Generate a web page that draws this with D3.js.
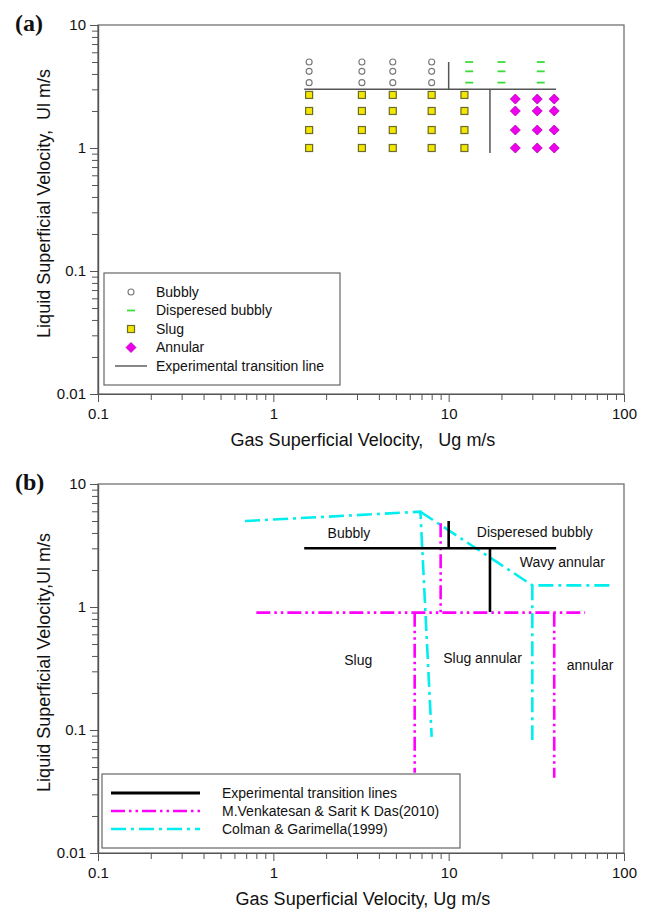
<!DOCTYPE html>
<html>
<head>
<meta charset="utf-8">
<script src="https://cdn.jsdelivr.net/npm/d3@7"></script>
<style>
  body { margin: 0; background: #fff; }
  svg { display: block; font-family: "Liberation Sans", Arial, sans-serif; }
</style>
</head>
<body>
<div id="chart"></div>
<script>
// axis tick labels
const xTickLabels = [0.1, 1, 10, 100];
const yTickLabels = [0.01, 0.1, 1, 10];

// (a) observed flow patterns, Ug columns x Ul rows (m/s)
const bubblyUg = [1.6, 3.2, 4.8, 8.0];
const bubblyUl = [5.0, 4.2, 3.4];
const dispersedUg = [13.1, 20, 33.5];
const dispersedUl = [5.0, 4.2, 3.4];
const slugUg = [1.6, 3.2, 4.8, 8.0, 12.3];
const slugUl = [2.7, 2.0, 1.4, 1.0];
const annularUg = [24, 32, 40];
const annularUl = [2.5, 2.0, 1.4, 1.0];

// transition lines, [Ug, Ul] vertices
const expLines = [
  [[1.5, 3], [41, 3]],
  [[10, 5], [10, 3]],
  [[17.2, 3], [17.2, 0.91]]
];
const venkatesanLines = [
  [[0.8, 0.9], [60, 0.9]],
  [[6.4, 0.9], [6.4, 0.045]],
  [[9.0, 4.8], [9.0, 0.9]],
  [[40, 0.9], [40, 0.041]]
];
const colmanLines = [
  [[0.69, 5.0], [6.9, 5.95], [8.0, 0.088]],
  [[6.9, 5.95], [30, 1.5], [87, 1.5]],
  [[30, 1.5], [30, 0.083]]
];

// (b) region names
const regionNames = ["Bubbly", "Disperesed bubbly", "Wavy annular", "Slug", "Slug annular", "annular"];
const regionUg = [2.7, 31, 44.5, 3.05, 15.6, 64];
const regionUl = [4.0, 4.05, 2.3, 0.37, 0.385, 0.34];

const W = 646, H = 913;
const left = 98, right = 624;
const font = '"Liberation Sans", Arial, sans-serif';

const svg = d3.select("#chart").append("svg")
    .attr("width", W)
    .attr("height", H);

function isMajor(v) {
  const l = Math.log10(v);
  return Math.abs(l - Math.round(l)) < 1e-9;
}

function panel(top, bottom, tag, xTitle, yTitle) {
  const x = d3.scaleLog().domain([0.1, 100]).range([left, right]);
  const y = d3.scaleLog().domain([0.01, 10]).range([bottom, top]);
  const g = svg.append("g");

  g.append("rect")
      .attr("x", left).attr("y", top)
      .attr("width", right - left).attr("height", bottom - top)
      .attr("fill", "none")
      .attr("stroke", "#666")
      .attr("stroke-width", 1.2);

  const xMinor = x.ticks().filter(v => !isMajor(v));
  const yMinor = y.ticks().filter(v => !isMajor(v));

  const axisStyle = sel => {
    sel.attr("color", "#555")
       .attr("font-size", 15)
       .attr("font-family", font);
    sel.selectAll("path.domain").attr("stroke-width", 1.2);
    sel.selectAll("text").attr("fill", "#111");
  };

  g.append("g")
      .attr("transform", `translate(0,${bottom})`)
      .call(d3.axisBottom(x).tickValues(xMinor).tickSize(6).tickSizeOuter(0).tickFormat(""))
      .call(axisStyle);
  g.append("g")
      .attr("transform", `translate(0,${bottom})`)
      .call(d3.axisBottom(x).tickValues(xTickLabels).tickSize(8).tickSizeOuter(0).tickPadding(6)
        .tickFormat(d3.format("~g")))
      .call(axisStyle);
  g.append("g")
      .attr("transform", `translate(${left},0)`)
      .call(d3.axisLeft(y).tickValues(yMinor).tickSize(6).tickSizeOuter(0).tickFormat(""))
      .call(axisStyle);
  g.append("g")
      .attr("transform", `translate(${left},0)`)
      .call(d3.axisLeft(y).tickValues(yTickLabels).tickSize(8).tickSizeOuter(0).tickPadding(4)
        .tickFormat(d3.format("~g")))
      .call(axisStyle);

  g.append("text")
      .attr("x", (left + right) / 2 + 2)
      .attr("y", bottom + 52)
      .attr("text-anchor", "middle")
      .attr("font-size", 18)
      .attr("fill", "#111")
      .style("white-space", "pre")
      .text(xTitle);

  g.append("text")
      .attr("transform", `translate(50,${(top + bottom) / 2 - 6}) rotate(-90)`)
      .attr("text-anchor", "middle")
      .attr("font-size", 18)
      .attr("fill", "#111")
      .style("white-space", "pre")
      .text(yTitle);

  g.append("text")
      .attr("x", 15)
      .attr("y", top + 6)
      .attr("font-family", '"Liberation Serif", "Times New Roman", serif')
      .attr("font-weight", "bold")
      .attr("font-size", 24)
      .attr("fill", "#111")
      .text(tag);

  return { g, x, y };
}

// ---------- panel (a) ----------
const pa = panel(25, 394, "(a)", "Gas Superficial Velocity,   Ug m/s", "Liquid Superficial Velocity,  Ul m/s");

const grid = (us, ls) => us.flatMap(u => ls.map(l => [u, l]));

const symbols = {
  bubbly: g => g.append("circle").attr("r", 3).attr("fill", "#fff").attr("stroke", "#777").attr("stroke-width", 1.1),
  dispersed: g => g.append("line").attr("x1", -4).attr("x2", 4).attr("stroke", "#3ddc3d").attr("stroke-width", 1.8),
  slug: g => g.append("rect").attr("x", -3.5).attr("y", -3.5).attr("width", 7).attr("height", 7)
      .attr("fill", "#f5e600").attr("stroke", "#6b6b2a").attr("stroke-width", 1.2),
  annular: g => g.append("path").attr("d", "M0,-5L5,0L0,5L-5,0Z")
      .attr("fill", "#ee00ee").attr("stroke", "#b000b0").attr("stroke-width", 0.8)
};

function drawPoints(pts, sym) {
  pa.g.append("g").selectAll("g")
    .data(pts)
    .join("g")
      .attr("transform", d => `translate(${pa.x(d[0])},${pa.y(d[1])})`)
      .each(function() { sym(d3.select(this)); });
}

const lineA = d3.line().x(d => pa.x(d[0])).y(d => pa.y(d[1]));
pa.g.append("g").selectAll("path")
  .data(expLines)
  .join("path")
    .attr("d", lineA)
    .attr("fill", "none")
    .attr("stroke", "#555")
    .attr("stroke-width", 1.5);

drawPoints(grid(bubblyUg, bubblyUl), symbols.bubbly);
drawPoints(grid(dispersedUg, dispersedUl), symbols.dispersed);
drawPoints(grid(slugUg, slugUl), symbols.slug);
drawPoints(grid(annularUg, annularUl), symbols.annular);

// legend (a)
const legA = pa.g.append("g");
legA.append("rect")
    .attr("x", 104).attr("y", 273).attr("width", 236).attr("height", 112)
    .attr("fill", "#fff").attr("stroke", "#666").attr("stroke-width", 1.2);
const legAItems = ["Bubbly", "Disperesed bubbly", "Slug", "Annular", "Experimental transition line"];
const legASyms = [symbols.bubbly, symbols.dispersed, symbols.slug, symbols.annular, null];
legAItems.forEach((name, i) => {
  const cy = 292 + i * 18.5;
  const s = legA.append("g").attr("transform", `translate(131,${cy})`);
  if (legASyms[i]) legASyms[i](s);
  else s.append("line").attr("x1", -16).attr("x2", 16).attr("stroke", "#444").attr("stroke-width", 1.3);
  legA.append("text")
      .attr("x", 156).attr("y", cy)
      .attr("dy", "0.35em")
      .attr("font-size", 14)
      .attr("fill", "#111")
      .text(name);
});

// ---------- panel (b) ----------
const pb = panel(484, 853, "(b)", "Gas Superficial Velocity, Ug m/s", "Liquid Superficial Velocity,Ul m/s");
const lineB = d3.line().x(d => pb.x(d[0])).y(d => pb.y(d[1]));

const styles = [
  { name: "Experimental transition lines", data: expLines, color: "#000", width: 2.6, dash: null },
  { name: "M.Venkatesan & Sarit K Das(2010)", data: venkatesanLines, color: "#ff00ff", width: 2.6, dash: "14,4,2.5,4,2.5,4" },
  { name: "Colman & Garimella(1999)", data: colmanLines, color: "#00eeee", width: 2.6, dash: "15,5,3,5" }
];

// Colman first, then Venkatesan, experimental lines on top
[styles[2], styles[1], styles[0]].forEach(s => {
  pb.g.append("g").selectAll("path")
    .data(s.data)
    .join("path")
      .attr("d", lineB)
      .attr("fill", "none")
      .attr("stroke", s.color)
      .attr("stroke-width", s.width)
      .attr("stroke-dasharray", s.dash);
});

pb.g.append("g").selectAll("text")
  .data(regionNames)
  .join("text")
    .attr("x", (d, i) => pb.x(regionUg[i]))
    .attr("y", (d, i) => pb.y(regionUl[i]))
    .attr("dy", "0.35em")
    .attr("text-anchor", "middle")
    .attr("font-size", 14)
    .attr("fill", "#111")
    .text(d => d);

// legend (b)
const legB = pb.g.append("g");
legB.append("rect")
    .attr("x", 102).attr("y", 774).attr("width", 358).attr("height", 74)
    .attr("fill", "#fff").attr("stroke", "#666").attr("stroke-width", 1.2);
styles.forEach((s, i) => {
  const cy = 793 + i * 18;
  legB.append("line")
      .attr("x1", 111).attr("x2", 200).attr("y1", cy).attr("y2", cy)
      .attr("stroke", s.color)
      .attr("stroke-width", i === 0 ? 3 : 2.6)
      .attr("stroke-dasharray", s.dash);
  legB.append("text")
      .attr("x", 222).attr("y", cy)
      .attr("dy", "0.35em")
      .attr("font-size", 14)
      .attr("fill", "#111")
      .text(s.name);
});
</script>
</body>
</html>
